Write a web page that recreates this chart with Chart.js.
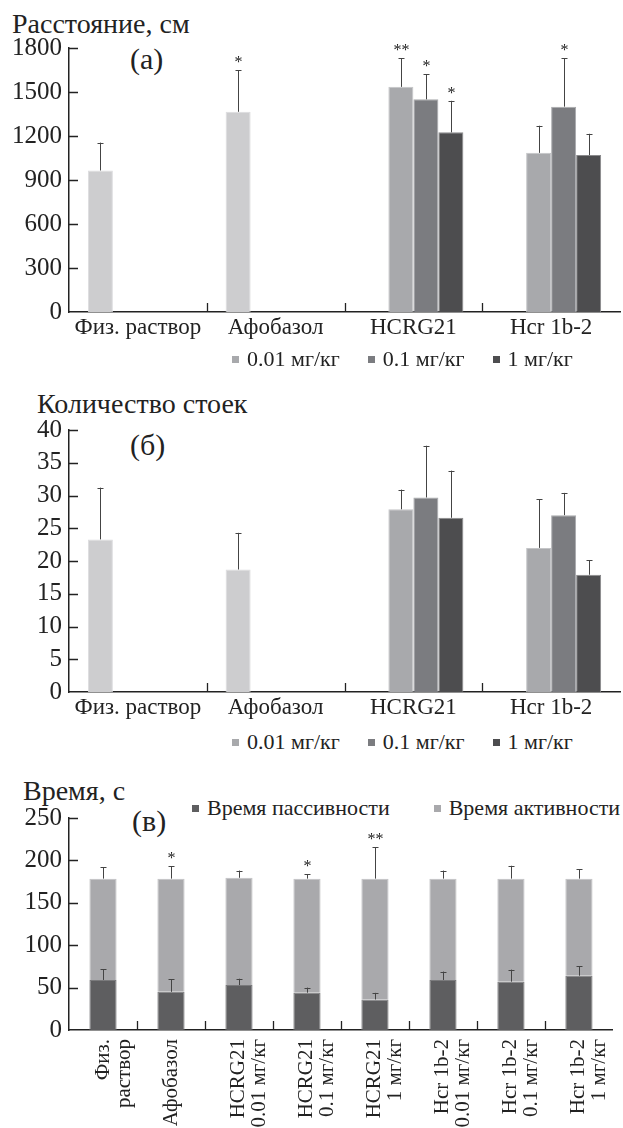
<!DOCTYPE html>
<html>
<head>
<meta charset="utf-8">
<script src="https://cdn.jsdelivr.net/npm/chart.js@4.4.0/dist/chart.umd.min.js"></script>
<style>
  body { margin: 0; width: 623px; height: 1128px; overflow: hidden; background: #fff; position: relative; font-family: "Liberation Serif", "Times New Roman", Tinos, "DejaVu Serif", serif; color: #222; }
  .box { position: absolute; left: 0; }
  .t { position: absolute; font-size: 28px; white-space: nowrap; line-height: 1; }
  .p { position: absolute; font-size: 30px; white-space: nowrap; line-height: 1; }
  .lg { position: absolute; font-size: 22px; white-space: nowrap; line-height: 1; }
  .lg i { display: inline-block; width: 7px; height: 7px; margin-right: 8px; vertical-align: 3px; }
</style>
</head>
<body>

<div class="t" style="left:12px;top:10px">Расстояние, см</div>
<div class="p" style="left:130px;top:44px">(a)</div>
<div class="box" style="top:0;width:623px;height:348px"><canvas id="chart-a"></canvas></div>
<div class="lg" id="legend-a" style="left:232px;top:348px"></div>

<div class="t" style="left:37px;top:390px">Количество стоек</div>
<div class="p" style="left:130px;top:430px">(б)</div>
<div class="box" style="top:382px;width:623px;height:346px"><canvas id="chart-b"></canvas></div>
<div class="lg" id="legend-b" style="left:232px;top:731px"></div>

<div class="t" style="left:23px;top:777px">Время, с</div>
<div class="p" style="left:132px;top:806px">(в)</div>
<div class="lg" id="legend-c" style="left:192px;top:797px"></div>
<div class="box" style="top:770px;width:630px;height:358px"><canvas id="chart-c"></canvas></div>

<script>
// группы для графиков (а) и (б)
var groups = ['Физ. раствор', 'Афобазол', 'HCRG21', 'Hcr 1b-2'];
var doses = ['0.01 мг/кг', '0.1 мг/кг', '1 мг/кг'];

// (а) расстояние, см
var distCtrl = [965, 1365, null, null];
var distCtrlErr = [190, 285, null, null];
var distCtrlStars = ['', '*', '', ''];
var dist001 = [null, null, 1535, 1085];
var dist001Err = [null, null, 195, 185];
var dist001Stars = ['', '', '**', ''];
var dist01 = [null, null, 1450, 1400];
var dist01Err = [null, null, 170, 330];
var dist01Stars = ['', '', '*', '*'];
var dist1 = [null, null, 1225, 1070];
var dist1Err = [null, null, 215, 145];
var dist1Stars = ['', '', '*', ''];

// (б) количество стоек
var rearCtrl = [23.3, 18.7, null, null];
var rearCtrlErr = [7.9, 5.6, null, null];
var rear001 = [null, null, 27.9, 22.0];
var rear001Err = [null, null, 3.0, 7.4];
var rear01 = [null, null, 29.7, 27.0];
var rear01Err = [null, null, 7.9, 3.4];
var rear1 = [null, null, 26.6, 17.9];
var rear1Err = [null, null, 7.2, 2.2];

// (в) время, с
var timeGroups = [['Физ.', 'раствор'], ['Афобазол'], ['HCRG21', '0.01 мг/кг'], ['HCRG21', '0.1 мг/кг'],
  ['HCRG21', '1 мг/кг'], ['Hcr 1b-2', '0.01 мг/кг'], ['Hcr 1b-2', '0.1 мг/кг'], ['Hcr 1b-2', '1 мг/кг']];
var passive = [59, 45, 53, 44, 36, 59, 57, 64];
var passiveErr = [12.7, 15, 7.5, 6, 7.8, 9.9, 14.2, 11];
var active = [119.5, 133.5, 126.5, 134.5, 142.5, 119.5, 121.5, 114.5];
var activeErr = [13.5, 14.5, 8.5, 5.3, 37, 9.5, 15.2, 11.3];
var activeStars = ['', '*', '', '*', '**', '', '', ''];

var colCtrl = '#cdcdcf';
var col001 = '#a8a9ac';
var col01 = '#7b7c80';
var col1 = '#4d4d4f';
var colPassive = '#5e5e60';
var colActive = '#a9a9ac';

var font = '"Liberation Serif", "Times New Roman", Tinos, "DejaVu Serif", serif';

// усы погрешности и звездочки
var errorBars = {
  id: 'errorBars',
  afterDatasetsDraw: function(chart) {
    var ctx = chart.ctx;
    var y = chart.scales.y;
    chart.data.datasets.forEach(function(ds, i) {
      if (!ds.errors) return;
      chart.getDatasetMeta(i).data.forEach(function(bar, j) {
        var err = ds.errors[j];
        if (err == null || ds.data[j] == null) return;
        var v = y.getValueForPixel(bar.y);
        var top = y.getPixelForValue(v + err);
        var x = Math.round(bar.x) + 0.5;
        ctx.save();
        ctx.strokeStyle = '#444';
        ctx.lineWidth = 1;
        ctx.beginPath();
        ctx.moveTo(x, bar.y);
        ctx.lineTo(x, top);
        ctx.moveTo(x - 3, Math.round(top) + 0.5);
        ctx.lineTo(x + 3, Math.round(top) + 0.5);
        ctx.stroke();
        if (ds.stars && ds.stars[j]) {
          ctx.fillStyle = '#222';
          ctx.font = '16px ' + font;
          ctx.textAlign = 'center';
          ctx.textBaseline = 'alphabetic';
          ctx.fillText(ds.stars[j], x, top - 3);
        }
        ctx.restore();
      });
    });
  }
};

// короткие засечки внутрь графика
var innerTicks = {
  id: 'innerTicks',
  afterDraw: function(chart) {
    var ctx = chart.ctx, x = chart.scales.x, y = chart.scales.y;
    ctx.save();
    ctx.strokeStyle = '#222';
    ctx.lineWidth = 1.3;
    ctx.beginPath();
    y.ticks.forEach(function(t) {
      if (t.value === 0) return;
      var py = Math.round(y.getPixelForValue(t.value)) + 0.5;
      ctx.moveTo(x.left, py);
      ctx.lineTo(x.left + 9, py);
    });
    for (var i = 1; i < x.ticks.length; i++) {
      var px = Math.round((x.getPixelForValue(i - 1) + x.getPixelForValue(i)) / 2) + 0.5;
      ctx.moveTo(px, y.bottom);
      ctx.lineTo(px, y.bottom - 9);
    }
    ctx.stroke();
    ctx.restore();
  }
};

function makeChart(id, labels, datasets, yMax, yStep, opts) {
  return new Chart(document.getElementById(id), {
    type: 'bar',
    data: { labels: labels, datasets: datasets },
    options: {
      responsive: true,
      maintainAspectRatio: false,
      animation: false,
      layout: { padding: { top: 48, right: opts.padRight, left: 0, bottom: 0 } },
      plugins: { legend: { display: false }, tooltip: { enabled: false } },
      datasets: { bar: { categoryPercentage: opts.catPct, barPercentage: 1, borderWidth: 1, borderSkipped: 'bottom' } },
      scales: {
        x: {
          stacked: opts.stacked,
          grid: { display: false, drawTicks: false },
          border: { display: true, color: '#222', width: 1.5 },
          ticks: {
            color: '#222', font: { family: font, size: opts.xFont, lineHeight: 1.0 },
            padding: opts.xPad, maxRotation: opts.rot, minRotation: opts.rot, autoSkip: false
          },
          afterFit: function(s) { s.height = opts.xHeight; }
        },
        y: {
          stacked: opts.stacked,
          min: 0, max: yMax,
          grid: { display: false, drawTicks: false },
          border: { display: true, color: '#222', width: 1.5 },
          ticks: {
            stepSize: yStep, maxTicksLimit: 20, color: '#222', font: { family: font, size: 25, lineHeight: 1 }, padding: 7,
            callback: function(v) { return String(v); }
          },
          afterFit: function(s) { s.width = 69; }
        }
      }
    },
    plugins: [errorBars, innerTicks]
  });
}

function doseSets(ctrl, ctrlErr, d001, e001, d01, e01, d1, e1, stars) {
  stars = stars || [];
  return [
    { label: 'control', data: ctrl, errors: ctrlErr, stars: stars[0], backgroundColor: colCtrl, borderColor: '#dcdcde' },
    { label: doses[0], data: d001, errors: e001, stars: stars[1], backgroundColor: col001, borderColor: '#c4c5c7' },
    { label: doses[1], data: d01, errors: e01, stars: stars[2], backgroundColor: col01, borderColor: '#a9aaad' },
    { label: doses[2], data: d1, errors: e1, stars: stars[3], backgroundColor: col1, borderColor: '#8a8a8c' }
  ];
}

var abOpts = { padRight: 3, catPct: 0.726, stacked: false, xFont: 23, xPad: 4, rot: 0, xHeight: 36 };

var chartA = makeChart('chart-a', groups,
  doseSets(distCtrl, distCtrlErr, dist001, dist001Err, dist01, dist01Err, dist1, dist1Err,
    [distCtrlStars, dist001Stars, dist01Stars, dist1Stars]),
  1800, 300, abOpts);

var chartB = makeChart('chart-b', groups,
  doseSets(rearCtrl, rearCtrlErr, rear001, rear001Err, rear01, rear01Err, rear1, rear1Err),
  40, 5, abOpts);

var chartC = makeChart('chart-c', timeGroups, [
  { label: 'Время пассивности', data: passive, errors: passiveErr, backgroundColor: colPassive, borderColor: '#7a7a7c' },
  { label: 'Время активности', data: active, errors: activeErr, stars: activeStars, backgroundColor: colActive, borderColor: '#c2c2c4' }
], 250, 50, { padRight: 1, catPct: 0.4, stacked: true, xFont: 21, xPad: 9, rot: 90, xHeight: 98 });

// легенды
function fillLegend(elId, chart, from, gap) {
  var html = '';
  chart.data.datasets.slice(from).forEach(function(ds, i) {
    html += '<span style="display:inline-block;margin-left:' + (i ? gap : 0) + 'px">' +
      '<i style="background:' + ds.backgroundColor + '"></i>' + ds.label + '</span>';
  });
  document.getElementById(elId).innerHTML = html;
}
fillLegend('legend-a', chartA, 1, 28);
fillLegend('legend-b', chartB, 1, 28);
fillLegend('legend-c', chartC, 0, 44);
</script>
</body>
</html>
